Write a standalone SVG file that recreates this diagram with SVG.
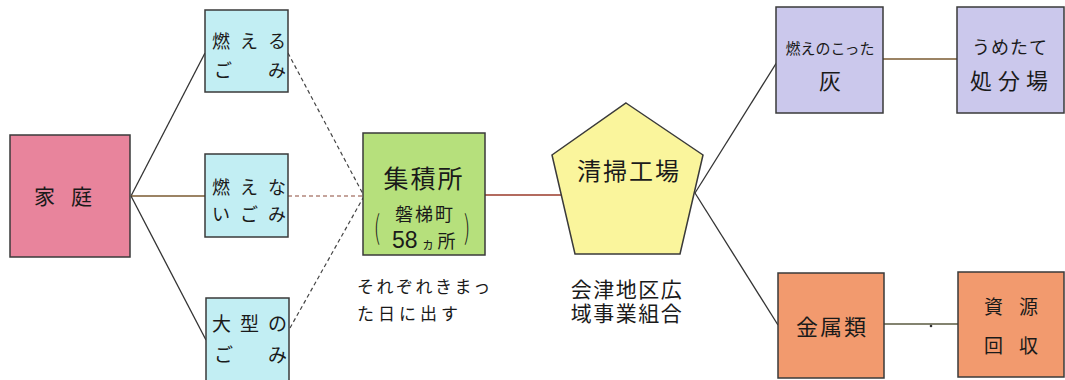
<svg xmlns="http://www.w3.org/2000/svg" width="1065" height="380" viewBox="0 0 1065 380">
<style>
.box{stroke:#3a3a3a;stroke-width:1.5}
.t{font-family:"Noto Sans CJK JP","Noto Sans",sans-serif;fill:#1a1a1a}
.t2{font-family:"Liberation Sans","Noto Sans CJK JP",sans-serif;fill:#1a1a1a}
.ln{stroke:#333;stroke-width:1.3;fill:none}
.dl{stroke:#444;stroke-width:1.2;stroke-dasharray:4 3;fill:none}
</style>
<rect width="1065" height="380" fill="#ffffff"/>
<g id="connectors">
<line class="ln" x1="131" y1="196" x2="205" y2="53"/>
<line class="ln" x1="131" y1="196" x2="205" y2="196" style="stroke:#7a5a30"/>
<line class="ln" x1="131" y1="196" x2="206" y2="340"/>
<line class="dl" x1="288" y1="53" x2="363" y2="194"/>
<line class="dl" x1="288" y1="196" x2="363" y2="196" style="stroke:#8b4a3a"/>
<line class="dl" x1="290" y1="328" x2="363" y2="198"/>
<line class="ln" x1="485" y1="195" x2="561" y2="195" style="stroke:#9a3a2a"/>
<line class="ln" x1="695" y1="193" x2="777" y2="62"/>
<line class="ln" x1="695" y1="193" x2="778" y2="325"/>
<line class="ln" x1="883" y1="59" x2="957" y2="59" style="stroke:#7a5a30"/>
<line class="ln" x1="884" y1="324" x2="958" y2="324" style="stroke:#5a5a40"/>
<circle cx="931" cy="326" r="1.3" fill="#333"/>
</g>
<g id="katei">
<rect class="box" x="10" y="135" width="120" height="122" fill="#e8849c"/>
<text class="t" x="71" y="204" font-size="21" text-anchor="middle" letter-spacing="16">家庭</text>
</g>
<g id="moeru">
<rect class="box" x="205" y="10" width="83" height="82" fill="#c2eef3"/>
<text class="t" font-size="18"><tspan x="212" y="48">燃</tspan><tspan x="240" y="48">え</tspan><tspan x="268" y="48">る</tspan><tspan x="214" y="77">ご</tspan><tspan x="268" y="77">み</tspan></text>
</g>
<g id="moenai">
<rect class="box" x="205" y="154" width="83" height="83" fill="#c2eef3"/>
<text class="t" font-size="18"><tspan x="212" y="194">燃</tspan><tspan x="240" y="194">え</tspan><tspan x="268" y="194">な</tspan><tspan x="212" y="221">い</tspan><tspan x="240" y="221">ご</tspan><tspan x="268" y="221">み</tspan></text>
</g>
<g id="oogata">
<rect class="box" x="206" y="298" width="83" height="84" fill="#c2eef3"/>
<text class="t" font-size="19"><tspan x="212" y="331">大</tspan><tspan x="240" y="331">型</tspan><tspan x="268" y="331">の</tspan><tspan x="214" y="362">ご</tspan><tspan x="268" y="362">み</tspan></text>
</g>
<g id="shuusekijo">
<rect class="box" x="363" y="133" width="122" height="122" fill="#b6e07c"/>
<text class="t" x="424" y="188" font-size="25" text-anchor="middle" letter-spacing="2">集積所</text>
<text class="t2" x="425" y="221" font-size="18" text-anchor="middle" letter-spacing="2">磐梯町</text>
<text class="t2" y="248"><tspan x="392" font-size="23">58</tspan><tspan font-size="13" dx="4">ヵ</tspan><tspan font-size="18" dx="3">所</tspan></text>
<text class="t" x="374" y="239" font-size="32" font-weight="300" transform="translate(374 239) scale(0.6 1) translate(-374 -239)">(</text>
<text class="t" x="464" y="239" font-size="32" font-weight="300" transform="translate(464 239) scale(0.6 1) translate(-464 -239)">)</text>
</g>
<g id="note1">
<text class="t" x="357" y="293" font-size="17" letter-spacing="2.5">それぞれきまっ</text>
<text class="t" x="357" y="320" font-size="17" letter-spacing="4">た日に出す</text>
</g>
<g id="seisou">
<polygon class="box" points="626,103 703,155 680,254 575,254 552,155" fill="#faf59c"/>
<text class="t" x="629" y="180" font-size="24" text-anchor="middle" letter-spacing="2">清掃工場</text>
</g>
<g id="note2">
<text class="t2" x="627" y="297" font-size="21" text-anchor="middle" letter-spacing="1.5">会津地区広</text>
<text class="t2" x="627" y="321" font-size="21" text-anchor="middle" letter-spacing="1.5">域事業組合</text>
</g>
<g id="hai">
<rect class="box" x="776" y="7" width="107" height="106" fill="#cbc8ec"/>
<text class="t" x="830" y="54" font-size="15" text-anchor="middle">燃えのこった</text>
<text class="t" x="830" y="89" font-size="22" text-anchor="middle">灰</text>
</g>
<g id="umetate">
<rect class="box" x="957" y="7" width="107" height="106" fill="#cbc8ec"/>
<text class="t" x="1010" y="54" font-size="18" text-anchor="middle" letter-spacing="1">うめたて</text>
<text class="t" x="1012" y="89" font-size="22" text-anchor="middle" letter-spacing="6">処分場</text>
</g>
<g id="kinzoku">
<rect class="box" x="778" y="273" width="106" height="105" fill="#f29a6e"/>
<text class="t" x="832" y="335" font-size="22" text-anchor="middle" letter-spacing="2">金属類</text>
</g>
<g id="shigen">
<rect class="box" x="958" y="272" width="106" height="105" fill="#f29a6e"/>
<text class="t" font-size="19"><tspan x="984" y="314">資</tspan><tspan x="1019" y="314">源</tspan><tspan x="984" y="353">回</tspan><tspan x="1019" y="353">収</tspan></text>
</g>
</svg>
